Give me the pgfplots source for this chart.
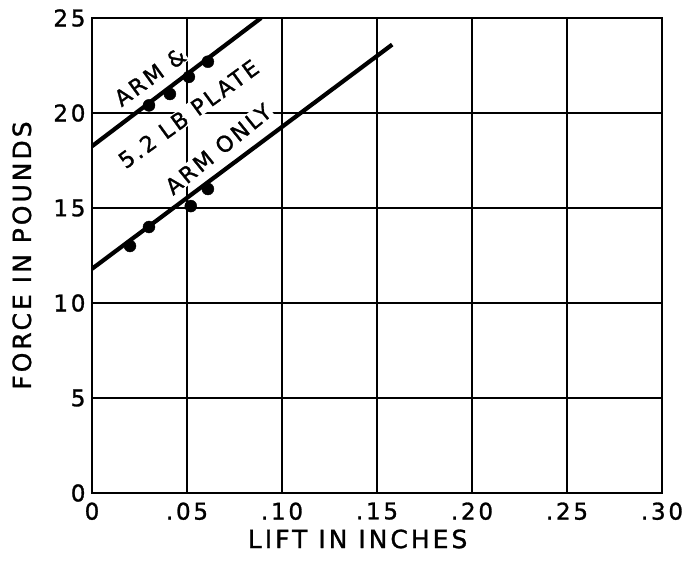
\documentclass[border=0pt]{standalone}
\usepackage{fontspec}
\setmainfont{DejaVu Sans}[LetterSpace=12, FakeBold=1.2]
\usepackage{pgfplots}
\pgfplotsset{compat=1.18}
\begin{document}
\begin{tikzpicture}
\begin{axis}[
  at={(0,0)}, anchor=south west,
  width=570pt, height=475pt, scale only axis,
  xmin=0, xmax=0.30, ymin=0, ymax=25,
  xtick={0,0.05,0.10,0.15,0.20,0.25,0.30},
  xticklabels={0,.05,.10,.15,.20,.25,.30},
  ytick={0,5,10,15,20,25},
  grid=major,
  major grid style={black, line width=2.2pt},
  axis line style={line width=2.6pt},
  tick style={draw=none},
  /pgf/number format/assume math mode=true,
  ticklabel style={font=\fontsize{23}{23}\selectfont},
  xticklabel style={yshift=-6pt},
  yticklabel style={xshift=-3pt},
  xlabel={LIFT IN INCHES},
  ylabel={FORCE IN POUNDS},
  label style={font=\fontsize{25}{25}\selectfont},
  xlabel style={at={(axis description cs:0.466,0)}, anchor=north, yshift=-33pt},
  ylabel style={at={(axis description cs:-0.123,0.5)}, anchor=center},
]
\node[rotate=36, font=\fontsize{22}{22}\selectfont, fill=white, inner sep=1pt] at (axis cs:0.0305,21.9) {ARM\hspace{0.45em}\&};
\node[rotate=36, font=\fontsize{22}{22}\selectfont, fill=white, inner sep=1pt] at (axis cs:0.0508,19.95) {5.2 LB PLATE};
\node[rotate=39, font=\fontsize{22}{22}\selectfont, fill=white, inner sep=1pt] at (axis cs:0.0664,18.1) {ARM ONLY};
% fitted lines
\addplot[black, line width=4.2pt] coordinates {(0,11.8) (0.158,23.6)};
\addplot[black, line width=4.2pt] coordinates {(0,18.25) (0.089,25)};
% arm only data
\addplot[only marks, mark=*, mark size=6pt, black] coordinates {
(0.020,13.0) (0.030,14.0) (0.052,15.1) (0.061,16.0)};
% arm & plate data
\addplot[only marks, mark=*, mark size=6pt, black] coordinates {
(0.030,20.4) (0.041,21.0) (0.051,21.9) (0.061,22.7)};
\end{axis}
\pgfresetboundingbox
\path (-92pt,-72pt) rectangle (590pt,493pt);
\end{tikzpicture}
\end{document}
